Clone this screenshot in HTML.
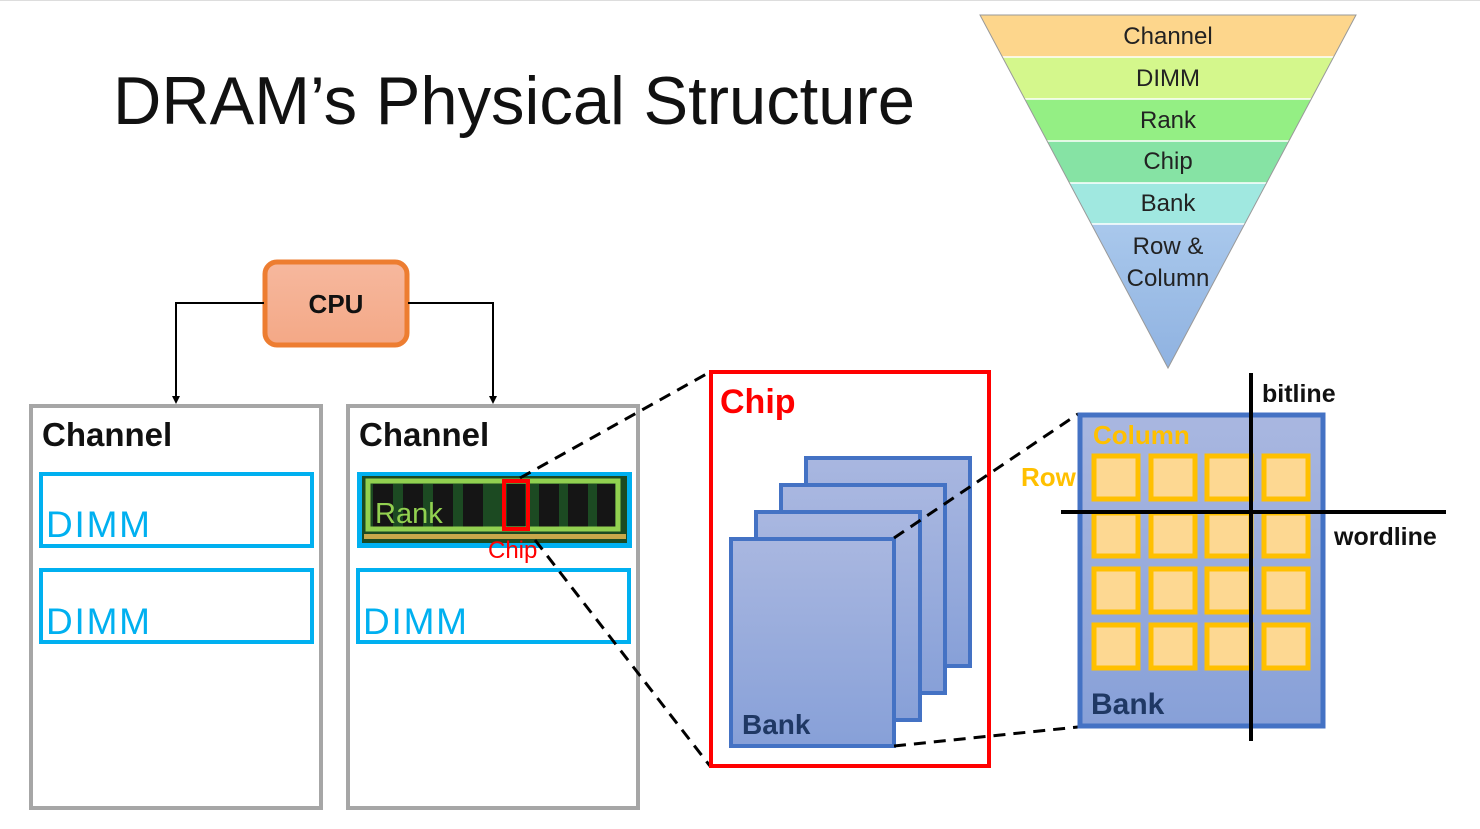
<!DOCTYPE html>
<html><head><meta charset="utf-8"><style>body{margin:0;background:#fff}svg{display:block}</style></head><body>
<svg width="1480" height="829" viewBox="0 0 1480 829" xmlns="http://www.w3.org/2000/svg" font-family="Liberation Sans, sans-serif">
<defs>
<linearGradient id="bk" x1="0" y1="0" x2="0" y2="1"><stop offset="0" stop-color="#a9b7e0"/><stop offset="1" stop-color="#87a0d8"/></linearGradient>
<linearGradient id="rc" x1="0" y1="0" x2="0" y2="1"><stop offset="0" stop-color="#a9c8ec"/><stop offset="1" stop-color="#8eb1e0"/></linearGradient>
<linearGradient id="cpu" x1="0" y1="0" x2="0" y2="1"><stop offset="0" stop-color="#f6b89e"/><stop offset="1" stop-color="#f4a886"/></linearGradient>
</defs>
<rect x="0" y="0" width="1480" height="829" fill="#fff"/>
<line x1="0" y1="0.5" x2="1480" y2="0.5" stroke="#ddd"/>
<text x="113" y="124" font-size="68" textLength="802" lengthAdjust="spacingAndGlyphs" fill="#111">DRAM’s Physical Structure</text>

<!-- pyramid -->
<clipPath id="tri"><polygon points="980,15 1356,15 1168,368"/></clipPath>
<g clip-path="url(#tri)">
<rect x="970" y="15" width="400" height="42" fill="#fdd68c"/>
<rect x="970" y="57" width="400" height="42" fill="#d4f78c"/>
<rect x="970" y="99" width="400" height="42" fill="#94ef84"/>
<rect x="970" y="141" width="400" height="42" fill="#86e3a4"/>
<rect x="970" y="183" width="400" height="41" fill="#a0e8e0"/>
<rect x="970" y="224" width="400" height="150" fill="url(#rc)"/>
<g stroke="#fff" stroke-width="1.5"><line x1="970" y1="57" x2="1370" y2="57"/><line x1="970" y1="99" x2="1370" y2="99"/><line x1="970" y1="141" x2="1370" y2="141"/><line x1="970" y1="183" x2="1370" y2="183"/><line x1="970" y1="224" x2="1370" y2="224"/></g>
</g>
<polygon points="980,15 1356,15 1168,368" fill="none" stroke="#999" stroke-width="1"/>
<g font-size="24" fill="#222" text-anchor="middle">
<text x="1168" y="44">Channel</text><text x="1168" y="86">DIMM</text><text x="1168" y="128">Rank</text><text x="1168" y="169">Chip</text><text x="1168" y="211">Bank</text><text x="1168" y="254">Row &amp;</text><text x="1168" y="286">Column</text>
</g>

<!-- CPU -->
<rect x="265" y="262" width="142" height="83" rx="12" fill="url(#cpu)" stroke="#ed7d31" stroke-width="5"/>
<text x="336" y="313" font-size="26" font-weight="bold" text-anchor="middle" fill="#111">CPU</text>
<polyline points="264,303 176,303 176,398" fill="none" stroke="#000" stroke-width="2"/>
<polyline points="408,303 493,303 493,398" fill="none" stroke="#000" stroke-width="2"/>
<polygon points="172,396 180,396 176,404" fill="#000"/>
<polygon points="489,396 497,396 493,404" fill="#000"/>

<!-- channels -->
<rect x="31" y="406" width="290" height="402" fill="none" stroke="#a6a6a6" stroke-width="4"/>
<rect x="348" y="406" width="290" height="402" fill="none" stroke="#a6a6a6" stroke-width="4"/>
<text x="42" y="446" font-size="33" font-weight="bold" fill="#111">Channel</text>
<text x="359" y="446" font-size="33" font-weight="bold" fill="#111">Channel</text>
<g fill="none" stroke="#00b0f0" stroke-width="4">
<rect x="41" y="474" width="271" height="72"/><rect x="41" y="570" width="271" height="72"/><rect x="358" y="570" width="271" height="72"/>
</g>
<g font-size="37" fill="#00b0f0"><text x="46" y="537" textLength="104">DIMM</text><text x="46" y="634" textLength="104">DIMM</text><text x="363" y="634" textLength="104">DIMM</text></g>

<!-- DIMM image -->
<rect x="357" y="472" width="275" height="76" fill="#00b0f0"/>
<rect x="362" y="476" width="265" height="67" fill="#1c4a22"/>
<g fill="#151515">
<rect x="373" y="484" width="20" height="43"/><rect x="403" y="484" width="20" height="43"/><rect x="433" y="484" width="20" height="43"/><rect x="463" y="484" width="20" height="43"/><rect x="507" y="484" width="18" height="43"/><rect x="539" y="484" width="20" height="43"/><rect x="568" y="484" width="20" height="43"/><rect x="597" y="484" width="18" height="43"/>
</g>
<rect x="364" y="534" width="262" height="5" fill="#c8a84a"/>
<rect x="368" y="481" width="250" height="48" fill="none" stroke="#92d050" stroke-width="5"/>
<text x="375" y="523" font-size="29" fill="#92d050">Rank</text>
<rect x="504" y="481" width="24" height="48" fill="none" stroke="#ff0000" stroke-width="4"/>
<text x="488" y="558" font-size="24" fill="#ff0000">Chip</text>

<!-- dashed to chip -->
<g stroke="#000" stroke-width="3" stroke-dasharray="12,8" fill="none">
<line x1="520" y1="478" x2="710" y2="372"/><line x1="535" y1="540" x2="710" y2="766"/>
</g>

<!-- chip -->
<rect x="711" y="372" width="278" height="394" fill="#fff" stroke="#ff0000" stroke-width="4"/>
<text x="720" y="413" font-size="34" font-weight="bold" fill="#ff0000">Chip</text>
<g fill="url(#bk)" stroke="#4472c4" stroke-width="4">
<rect x="806" y="458" width="164" height="208"/><rect x="781" y="485" width="164" height="208"/><rect x="756" y="512" width="164" height="208"/><rect x="731" y="539" width="163" height="207"/>
</g>
<text x="742" y="734" font-size="28" font-weight="bold" fill="#1f3864">Bank</text>

<g stroke="#000" stroke-width="3" stroke-dasharray="12,8" fill="none">
<line x1="894" y1="538" x2="1078" y2="414"/><line x1="894" y1="746" x2="1078" y2="727"/>
</g>

<!-- big bank -->
<rect x="1080" y="415" width="243" height="311" fill="url(#bk)" stroke="#4472c4" stroke-width="5"/>
<text x="1093" y="444" font-size="26" font-weight="bold" fill="#ffc000">Column</text>
<text x="1021" y="486" font-size="26" font-weight="bold" fill="#ffc000">Row</text>
<g fill="#fdd892" stroke="#ffc000" stroke-width="5">
<rect x="1094" y="456" width="44" height="43"/><rect x="1151" y="456" width="44" height="43"/><rect x="1207" y="456" width="44" height="43"/><rect x="1264" y="456" width="44" height="43"/>
<rect x="1094" y="513" width="44" height="43"/><rect x="1151" y="513" width="44" height="43"/><rect x="1207" y="513" width="44" height="43"/><rect x="1264" y="513" width="44" height="43"/>
<rect x="1094" y="569" width="44" height="43"/><rect x="1151" y="569" width="44" height="43"/><rect x="1207" y="569" width="44" height="43"/><rect x="1264" y="569" width="44" height="43"/>
<rect x="1094" y="625" width="44" height="43"/><rect x="1151" y="625" width="44" height="43"/><rect x="1207" y="625" width="44" height="43"/><rect x="1264" y="625" width="44" height="43"/>
</g>
<text x="1091" y="714" font-size="30" font-weight="bold" fill="#1f3864">Bank</text>
<line x1="1251" y1="373" x2="1251" y2="741" stroke="#000" stroke-width="4"/>
<line x1="1061" y1="512" x2="1446" y2="512" stroke="#000" stroke-width="4"/>
<text x="1262" y="402" font-size="25" font-weight="bold" fill="#111">bitline</text>
<text x="1334" y="545" font-size="25" font-weight="bold" fill="#111">wordline</text>
</svg>
</body></html>
